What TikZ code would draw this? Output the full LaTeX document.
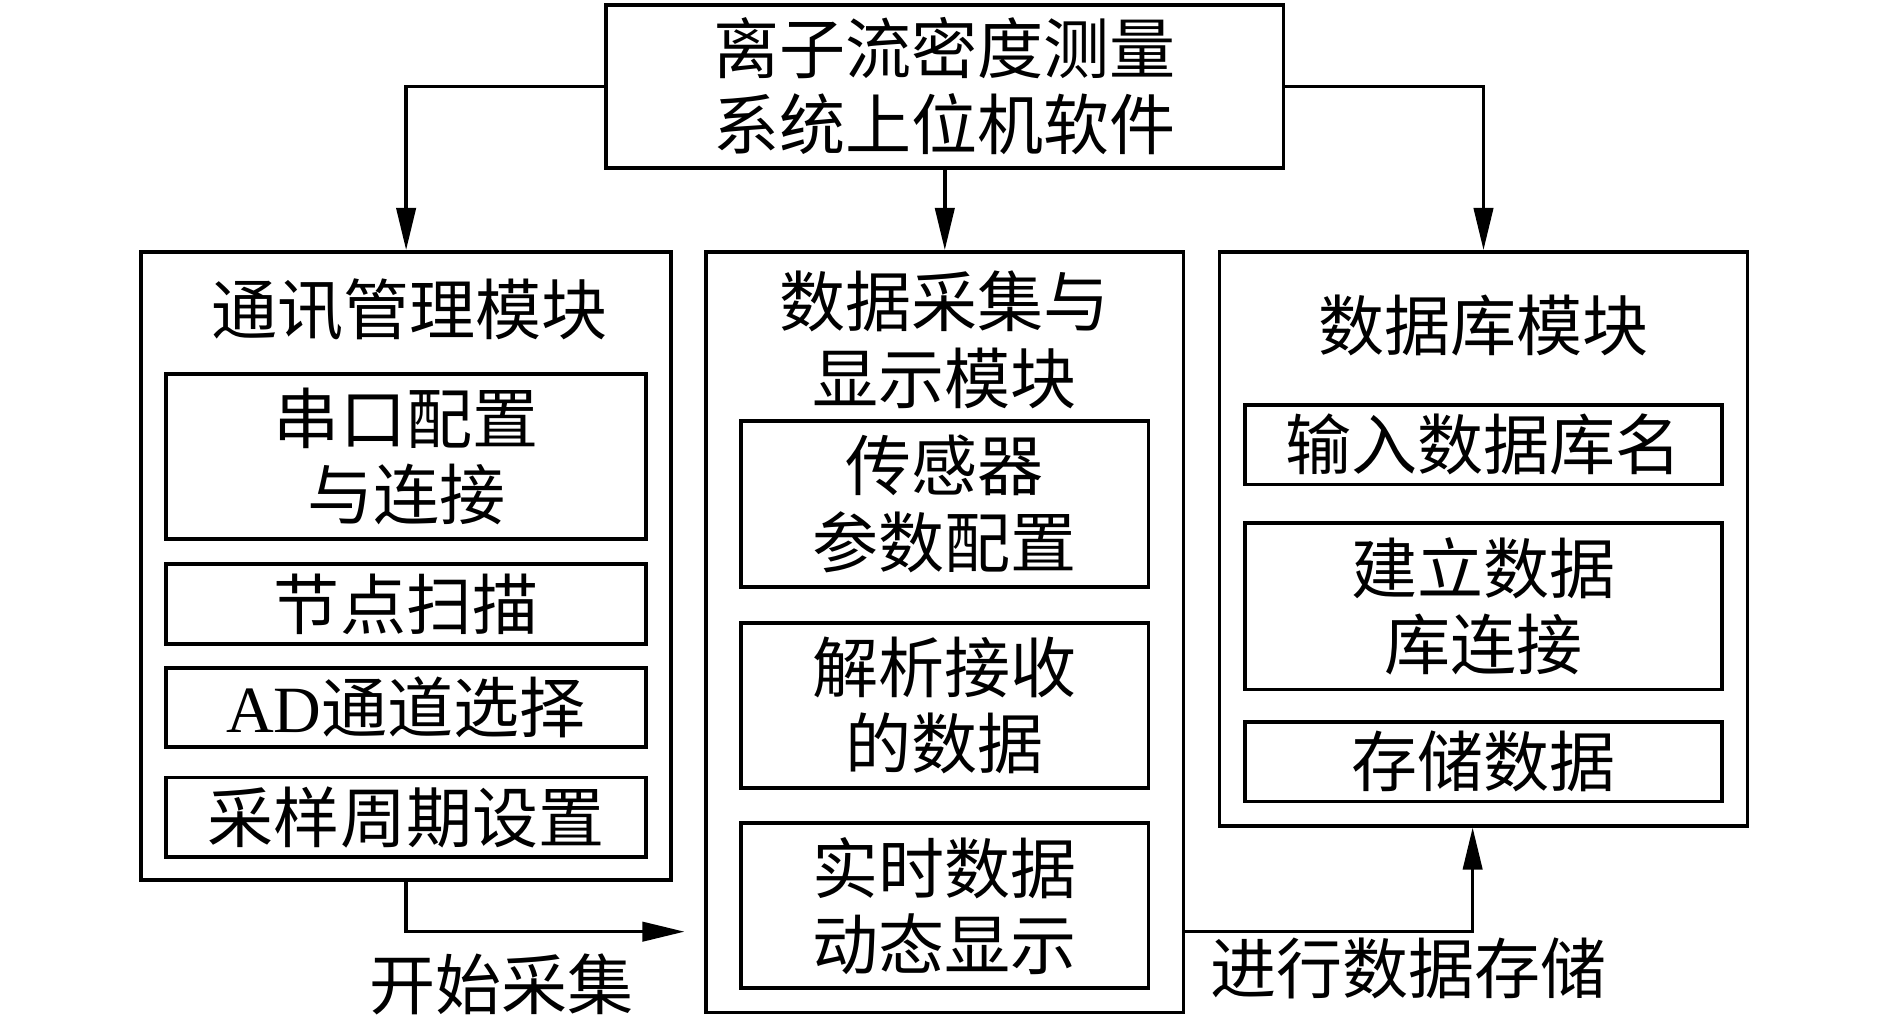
\documentclass[tikz,border=0pt]{standalone}
\usepackage{fontspec}
\setmainfont{Noto Sans CJK SC}
\newfontfamily\latinfont{Liberation Serif}
\usetikzlibrary{arrows.meta}

\begin{document}
\begin{tikzpicture}[
    outerbox/.style={draw, line width=0.9pt, inner sep=0pt},
    itembox/.style={draw, line width=0.9pt, inner sep=0pt, align=center,
        font=\fontsize{15.6}{18}\selectfont},
    txt/.style={inner sep=0pt, align=center, font=\fontsize{15.6}{18}\selectfont},
    conn/.style={line width=0.8pt, -{Triangle[length=3.5mm,width=1.6mm]}}
  ]
    \useasboundingbox (0,-0.02) rectangle (15.675,8.436);

    % top: software
    \node[itembox, minimum width=5.62cm, minimum height=1.35cm] (soft) at (7.84,7.72) {离子流密度测量\\系统上位机软件};

    % left: communication module
    \node[outerbox, minimum width=4.40cm, minimum height=5.21cm] (comm) at (3.37,3.74) {};
    \node[txt] (commtitle) at (3.40,5.865) {通讯管理模块};
    \node[itembox, minimum width=3.98cm, minimum height=1.37cm] (serial) at (3.37,4.65) {串口配置\\与连接};
    \node[itembox, minimum width=3.98cm, minimum height=0.66cm] (scan) at (3.37,3.425) {节点扫描};
    \node[itembox, minimum width=3.98cm, minimum height=0.66cm] (adch) at (3.37,2.565) {{\latinfont AD}通道选择};
    \node[itembox, minimum width=3.98cm, minimum height=0.66cm] (period) at (3.37,1.655) {采样周期设置};

    % middle: acquisition and display module
    \node[outerbox, minimum width=3.96cm, minimum height=6.31cm] (acq) at (7.84,3.19) {};
    \node[txt] (acqtitle) at (7.84,5.615) {数据采集与\\显示模块};
    \node[itembox, minimum width=3.38cm, minimum height=1.38cm] (sensor) at (7.84,4.255) {传感器\\参数配置};
    \node[itembox, minimum width=3.38cm, minimum height=1.37cm] (parse) at (7.84,2.58) {解析接收\\的数据};
    \node[itembox, minimum width=3.38cm, minimum height=1.37cm] (show) at (7.84,0.92) {实时数据\\动态显示};

    % right: database module
    \node[outerbox, minimum width=4.38cm, minimum height=4.76cm] (db) at (12.31,3.965) {};
    \node[txt] (dbtitle) at (12.31,5.735) {数据库模块};
    \node[itembox, minimum width=3.96cm, minimum height=0.66cm] (dbname) at (12.31,4.745) {输入数据库名};
    \node[itembox, minimum width=3.96cm, minimum height=1.38cm] (dblink) at (12.31,3.405) {建立数据\\库连接};
    \node[itembox, minimum width=3.96cm, minimum height=0.66cm] (store) at (12.31,2.115) {存储数据};

    % connectors
    \draw[conn] (soft.west) -| (comm.north);
    \draw[conn] (soft.south) -- (acq.north);
    \draw[conn] (soft.east) -| (db.north);

    \coordinate (startpt) at (5.68,0.705);
    \coordinate (savept) at (12.22,0.705);
    \draw[conn] (comm.south) |- (startpt);
    \draw[conn] (acq.east |- savept) -- (savept) -- (savept |- db.south);

    \node[txt] (startlbl) at (4.16,0.27) {开始采集};
    \node[txt] (savelbl) at (11.69,0.40) {进行数据存储};
\end{tikzpicture}
\end{document}
